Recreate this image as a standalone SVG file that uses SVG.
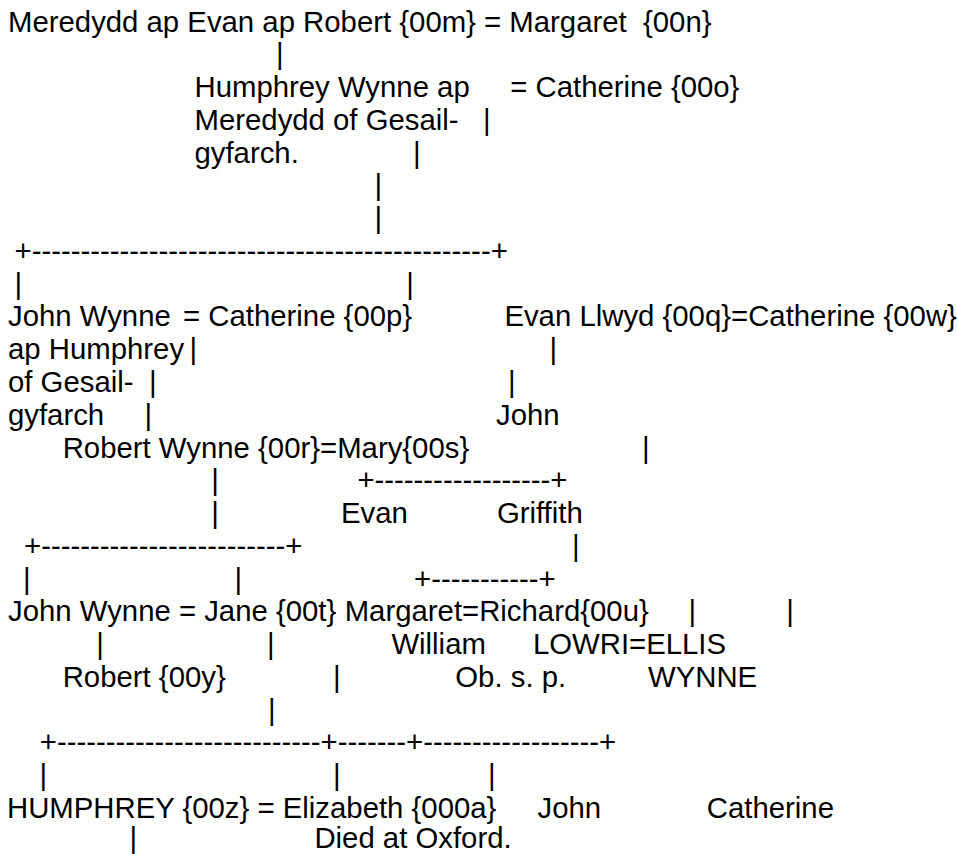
<svg xmlns="http://www.w3.org/2000/svg" width="957" height="854" viewBox="0 0 957 854" xml:space="preserve">
<style>
text{font-family:"Liberation Sans",Arial,sans-serif;font-size:29.33px;fill:#000;white-space:pre}
</style>
<rect width="957" height="854" fill="#fff"/>
<g id="connectors">
<text x="276" y="64.3">|</text>
<text x="482.9" y="129.8">|</text>
<text x="412.9" y="162.6">|</text>
<text x="374.5" y="195.4">|</text>
<text x="374.5" y="228.1">|</text>
<text x="14.5" y="260.9">+-----------------------------------------------+</text>
<text x="14.5" y="293.7">|</text>
<text x="406.2" y="293.7">|</text>
<text x="189.5" y="359.2">|</text>
<text x="549.5" y="359.2">|</text>
<text x="148.9" y="392">|</text>
<text x="507.9" y="392">|</text>
<text x="144.5" y="424.7">|</text>
<text x="641.9" y="457.5">|</text>
<text x="211.2" y="490.3">|</text>
<text x="357.4" y="490.3">+------------------+</text>
<text x="211.2" y="523">|</text>
<text x="24" y="555.8">+-------------------------+</text>
<text x="571.9" y="555.8">|</text>
<text x="22.9" y="588.6">|</text>
<text x="234.5" y="588.6">|</text>
<text x="414" y="588.6">+-----------+</text>
<text x="688.5" y="621.4">|</text>
<text x="786.2" y="621.4">|</text>
<text x="96.2" y="654.1">|</text>
<text x="266.9" y="654.1">|</text>
<text x="332.9" y="686.9">|</text>
<text x="267.9" y="719.7">|</text>
<text x="39.8" y="752.4">+---------------------------+-------+------------------+</text>
<text x="39.5" y="785.2">|</text>
<text x="332.9" y="785.2">|</text>
<text x="487.9" y="785.2">|</text>
<text x="129.5" y="847.6">|</text>
</g>
<g id="n-meredydd"><text x="8" y="31.5">Meredydd ap Evan ap Robert {00m} = Margaret  {00n}</text></g>
<g id="n-humphrey-wynne">
<text x="194.5" y="97">Humphrey Wynne ap</text>
<text x="510.3" y="97">= Catherine {00o}</text>
<text x="194.5" y="129.8">Meredydd of Gesail-</text>
<text x="194.5" y="162.6">gyfarch.</text>
</g>
<g id="n-john-wynne">
<text x="8" y="326.4">John Wynne</text>
<text x="183" y="326.4">= Catherine {00p}</text>
<text x="8" y="359.2">ap Humphrey</text>
<text x="8" y="392">of Gesail-</text>
<text x="8" y="424.7">gyfarch</text>
</g>
<g id="n-evan-llwyd"><text x="504.4" y="326.4">Evan Llwyd {00q}=Catherine {00w}</text></g>
<g id="n-john-a"><text x="496" y="424.7">John</text></g>
<g id="n-robert-wynne"><text x="62.7" y="457.5">Robert Wynne {00r}=Mary{00s}</text></g>
<g id="n-evan"><text x="341" y="523">Evan</text></g>
<g id="n-griffith"><text x="496.9" y="523">Griffith</text></g>
<g id="n-john-wynne-b"><text x="8" y="621.4">John Wynne = Jane {00t}</text></g>
<g id="n-margaret"><text x="344.7" y="621.4">Margaret=Richard{00u}</text></g>
<g id="n-william">
<text x="391.4" y="654.1">William</text>
<text x="455.3" y="686.9">Ob. s. p.</text>
</g>
<g id="n-lowri">
<text x="532.9" y="654.1">LOWRI=ELLIS</text>
<text x="648" y="686.9">WYNNE</text>
</g>
<g id="n-robert"><text x="62.7" y="686.9">Robert {00y}</text></g>
<g id="n-humphrey"><text x="7" y="818">HUMPHREY {00z} = Elizabeth {000a}</text></g>
<g id="n-john-b">
<text x="537.5" y="818">John</text>
<text x="314.4" y="847.6">Died at Oxford.</text>
</g>
<g id="n-catherine"><text x="706.8" y="818">Catherine</text></g>
</svg>
